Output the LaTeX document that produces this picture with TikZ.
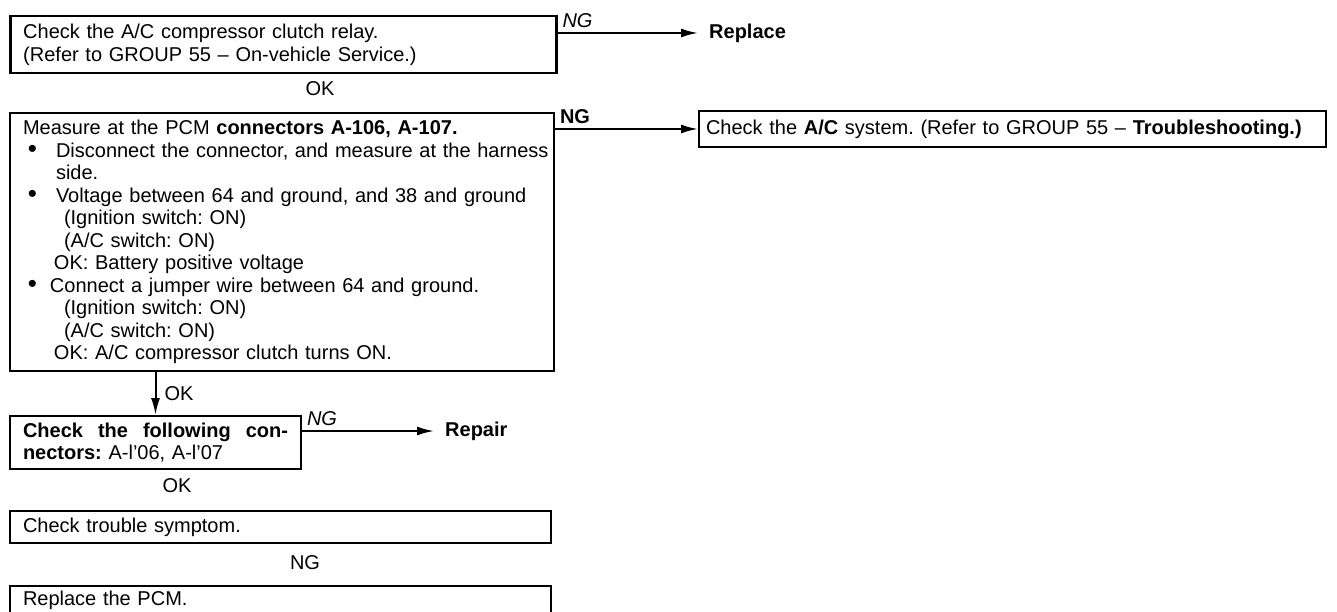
\documentclass[tikz,border=0pt]{standalone}
\usepackage{fontspec}
\setmainfont{Liberation Sans}
\usetikzlibrary{arrows.meta}
\frenchspacing
\newcommand{\bul}{\raisebox{-0.5pt}{\scalebox{1.3}{\textbullet}}}

\begin{document}
\begin{tikzpicture}[x=1pt, y=-1pt,
    every node/.style={font=\fontsize{20}{22.5}\selectfont},
    box/.style={rectangle, draw, line width=2pt, anchor=north west, inner xsep=13pt, inner ysep=2pt, align=left},
    result/.style={anchor=west, inner xsep=11pt, inner ysep=0pt, font=\fontsize{20}{22.5}\selectfont\bfseries},
    lbl/.style={inner sep=4pt}]
    \path [use as bounding box, fill=white] (0,0) rectangle (1337,612);
    \clip (0,0) rectangle (1337,612);

    % left column of checks
    \node [box, line width=2.5pt, text width=520pt, minimum width=546pt, minimum height=57pt] (relay) at (9,15)
        {Check the A/C compressor clutch relay.\\(Refer to GROUP 55 -- On-vehicle Service.)};
    \node [box, inner xsep=6pt, text width=532pt, minimum width=544pt, minimum height=258pt] (measure) at (9,112)
        {\mbox{\hspace*{7pt}Measure at the PCM \textbf{connectors A-106, A-107.}}\\
         \mbox{\hspace*{12pt}\makebox[28pt][l]{\bul}Disconnect the connector, and measure at the harness}\\
         \hspace*{40pt}side.\\
         \mbox{\hspace*{12pt}\makebox[28pt][l]{\bul}Voltage between 64 and ground, and 38 and ground}\\
         \hspace*{48pt}(Ignition switch: ON)\\
         \hspace*{48pt}(A/C switch: ON)\\
         \hspace*{38pt}OK: Battery positive voltage\\
         \mbox{\hspace*{12pt}\makebox[22pt][l]{\bul}Connect a jumper wire between 64 and ground.}\\
         \hspace*{48pt}(Ignition switch: ON)\\
         \hspace*{48pt}(A/C switch: ON)\\
         \hspace*{38pt}OK: A/C compressor clutch turns ON.};
    \node [box, text width=265pt, minimum width=291pt, minimum height=53pt] (conn) at (9,415)
        {\hbox to 265pt{\bfseries Check\hfill the\hfill following\hfill con-}\\\textbf{nectors:} A-l'06, A-l'07};
    \node [box, text width=515pt, minimum width=541pt, minimum height=32pt] (symptom) at (9,510)
        {Check trouble symptom.};
    \node [box, text width=515pt, minimum width=541pt, minimum height=28pt] (pcm) at (9,585)
        {Replace the PCM.};

    % results on the right
    \node [box, inner xsep=7pt, text width=613pt, minimum width=627pt, minimum height=36pt] (acsys) at (698,110)
        {Check the \textbf{A/C} system. (Refer to GROUP 55 -- \textbf{Troubleshooting.)}};
    \node [result] (replace) at (698,33) {Replace};
    \node [result] (repair) at (434,431) {Repair};

    % plain labels between boxes
    \node (ok1) at (320,89) {OK};
    \node (ok2) at (177,486) {OK};
    \node (ng1) at (305,563) {NG};

    \begin{scope}[-{Latex[length=17pt,width=9pt]}, line width=2pt]
        \draw (relay.east |- replace.west) -- node [lbl, pos=0, above right] {\textit{NG}} (replace.west);
        \draw (measure.east |- acsys.west) -- node [lbl, pos=0, above right] {\textbf{NG}} (acsys.west);
        \draw (measure.south -| conn.north) -- node [lbl, inner xsep=8pt, right] {OK} (conn.north);
        \draw (conn.east |- repair.west) -- node [lbl, pos=0, above right] {\textit{NG}} (repair.west);
    \end{scope}
\end{tikzpicture}
\end{document}
